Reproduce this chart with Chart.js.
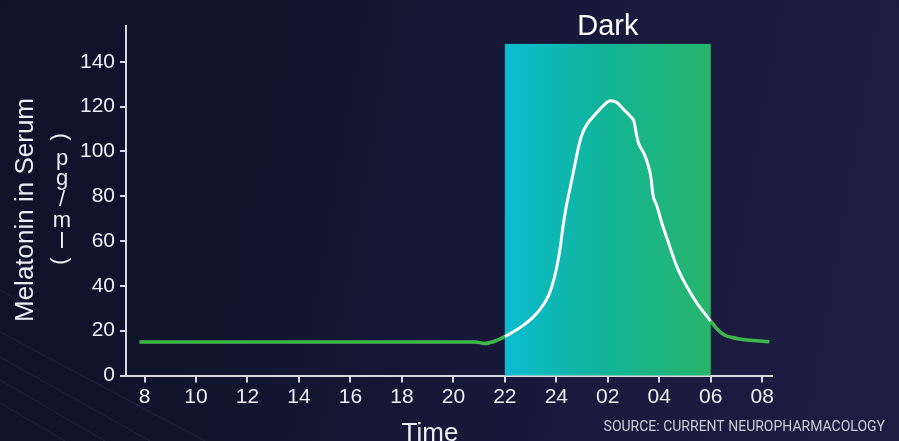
<!DOCTYPE html>
<html><head><meta charset="utf-8">
<script src="https://cdn.jsdelivr.net/npm/chart.js@4/dist/chart.umd.min.js"></script>
<style>
html,body{margin:0;padding:0;width:899px;height:441px;overflow:hidden;background:#141733;}
#wrap{position:relative;width:899px;height:441px;background:linear-gradient(100deg,#0e1128 0%,#12152f 35%,#191a3c 65%,#1d1d42 100%);}
canvas{display:block}
</style></head><body><div id="wrap"><canvas id="c" width="899" height="441"></canvas></div>
<script>
// ---- data ----
const hours = [7.8, 9, 11, 13, 15, 17, 19, 20.85, 21.2, 21.6, 22, 22.35, 22.74, 23.12, 23.45, 23.71, 23.9, 24.05, 24.16, 24.26, 24.39, 24.55, 24.71, 24.87, 25.0, 25.19, 25.52, 25.84, 26.1, 26.36, 26.61, 26.87, 27.03, 27.1, 27.19, 27.39, 27.58, 27.69, 27.74, 27.91, 28.1, 28.36, 28.68, 29.07, 29.46, 30, 30.27, 30.53, 30.79, 31.18, 32.28];
const melatonin = [15, 15, 15, 15, 15, 15, 15, 15, 14.3, 15.3, 17.4, 19.6, 22.6, 26.3, 30.8, 36.0, 42.7, 50.2, 57.7, 66.6, 75.6, 84.5, 93.5, 102.4, 107.7, 112.1, 116.6, 120.6, 122.6, 121.8, 118.8, 115.8, 112.9, 108.4, 103.9, 99.5, 93.5, 87.5, 81.6, 75.6, 68.1, 59.2, 48.7, 39.7, 32.3, 24.3, 20.4, 18.1, 17.1, 16.2, 15.1];
const xTickValues = [8, 10, 12, 14, 16, 18, 20, 22, 24, 26, 28, 30, 32];
const xTickLabels = ['8', '10', '12', '14', '16', '18', '20', '22', '24', '02', '04', '06', '08'];
const yTickValues = [0, 20, 40, 60, 80, 100, 120, 140];
const darkStart = 22, darkEnd = 30, darkTop = 148;
const darkLabel = 'Dark';
const yTitle = 'Melatonin in Serum';
const yUnit = '(pg/ml)';
const xTitle = 'Time';
const sourceText = 'SOURCE: CURRENT NEUROPHARMACOLOGY';

const FONT = '"Liberation Sans", Arial, sans-serif';
const GREEN = '#3fb64a';
const AXIS = '#d6d7e0';
const TXT = '#eceef3';

const deco = {
  id: 'deco',
  beforeDraw(chart) {
    const c = chart.ctx;
    c.save();
    c.strokeStyle = 'rgba(255,255,255,0.08)';
    c.lineWidth = 1;
    const lines = [[0, 332, 205, 441], [0, 357, 150, 441], [0, 380, 105, 441], [0, 403, 65, 441], [0, 290, 40, 312]];
    lines.forEach(l => { c.beginPath(); c.moveTo(l[0], l[1]); c.lineTo(l[2], l[3]); c.stroke(); });
    c.restore();
  },
  beforeDatasetsDraw(chart) {
    const c = chart.ctx, xs = chart.scales.x, ys = chart.scales.y;
    const x0 = xs.getPixelForValue(darkStart), x1 = xs.getPixelForValue(darkEnd);
    const y0 = ys.getPixelForValue(darkTop), y1 = ys.getPixelForValue(0);
    const g = c.createLinearGradient(x0, 0, x1, 0);
    g.addColorStop(0, '#0cbcd0');
    g.addColorStop(0.45, '#10b49c');
    g.addColorStop(1, '#28b56a');
    c.save();
    c.fillStyle = g;
    c.fillRect(x0, y0, x1 - x0, y1 - y0);
    c.restore();
  },
  afterDraw(chart) {
    const c = chart.ctx, xs = chart.scales.x;
    c.save();
    c.fillStyle = '#ffffff';
    c.textAlign = 'center';
    c.textBaseline = 'alphabetic';
    c.font = '29px ' + FONT;
    c.fillText(darkLabel, (xs.getPixelForValue(darkStart) + xs.getPixelForValue(darkEnd)) / 2, 35);
    // y title
    c.save();
    c.translate(33, 210);
    c.rotate(-Math.PI / 2);
    c.font = '26px ' + FONT;
    c.fillStyle = TXT;
    c.fillText(yTitle, 0, 0);
    c.restore();
    // stacked unit (upright characters, parentheses turned)
    c.font = '22px ' + FONT;
    c.fillStyle = TXT;
    c.textBaseline = 'middle';
    Array.from(yUnit).forEach((ch, i) => {
      const cy = 137 + i * 20.7;
      c.save();
      c.translate(62, cy);
      if (ch === '(' || ch === ')') c.rotate(Math.PI / 2);
      c.fillText(ch, 0, 1);
      c.restore();
    });
    // x title
    c.textBaseline = 'alphabetic';
    c.font = '26px ' + FONT;
    c.fillText(xTitle, 430, 441);
    // source
    c.font = '14px Roboto, ' + FONT;
    c.fillStyle = '#c9cbd6';
    c.textAlign = 'right';
    c.fillText(sourceText, 885, 431);
    c.restore();
  }
};

new Chart(document.getElementById('c'), {
  type: 'line',
  data: {
    datasets: [{
      data: hours.map((h, i) => ({ x: h, y: melatonin[i] })),
      borderColor: GREEN,
      borderWidth: 3.5,
      pointRadius: 0,
      cubicInterpolationMode: 'monotone',
      borderJoinStyle: 'round',
      segment: {
        borderColor: ctx => (ctx.p0.parsed.x >= darkStart && ctx.p1.parsed.x <= darkEnd) ? '#ffffff' : GREEN,
        borderWidth: ctx => (ctx.p0.parsed.x >= darkStart && ctx.p1.parsed.x <= darkEnd) ? 3 : 3.5
      }
    }]
  },
  options: {
    responsive: false,
    animation: false,
    devicePixelRatio: 1,
    layout: { padding: { top: 26, right: 127, left: 0, bottom: 0 } },
    plugins: { legend: { display: false }, tooltip: { enabled: false } },
    scales: {
      x: {
        type: 'linear', min: 7.28, max: 32.38,
        afterBuildTicks: s => { s.ticks = xTickValues.map(v => ({ value: v })); },
        afterFit: s => { s.height = 65.5; },
        ticks: {
          autoSkip: false, maxRotation: 0, padding: 2, color: TXT,
          font: { family: FONT, size: 21 },
          callback: v => xTickLabels[xTickValues.indexOf(v)]
        },
        grid: { display: true, drawOnChartArea: false, drawTicks: true, tickLength: 7, color: AXIS, lineWidth: 2 },
        border: { display: true, color: AXIS, width: 2 }
      },
      y: {
        min: 0, max: 156,
        afterBuildTicks: s => { s.ticks = yTickValues.map(v => ({ value: v })); },
        afterFit: s => { s.width = 126; },
        ticks: { padding: 5, color: TXT, font: { family: FONT, size: 21 } },
        grid: { display: true, drawOnChartArea: false, drawTicks: true, tickLength: 6, color: AXIS, lineWidth: 2 },
        border: { display: true, color: AXIS, width: 2 }
      }
    }
  },
  plugins: [deco]
});
</script></body></html>
